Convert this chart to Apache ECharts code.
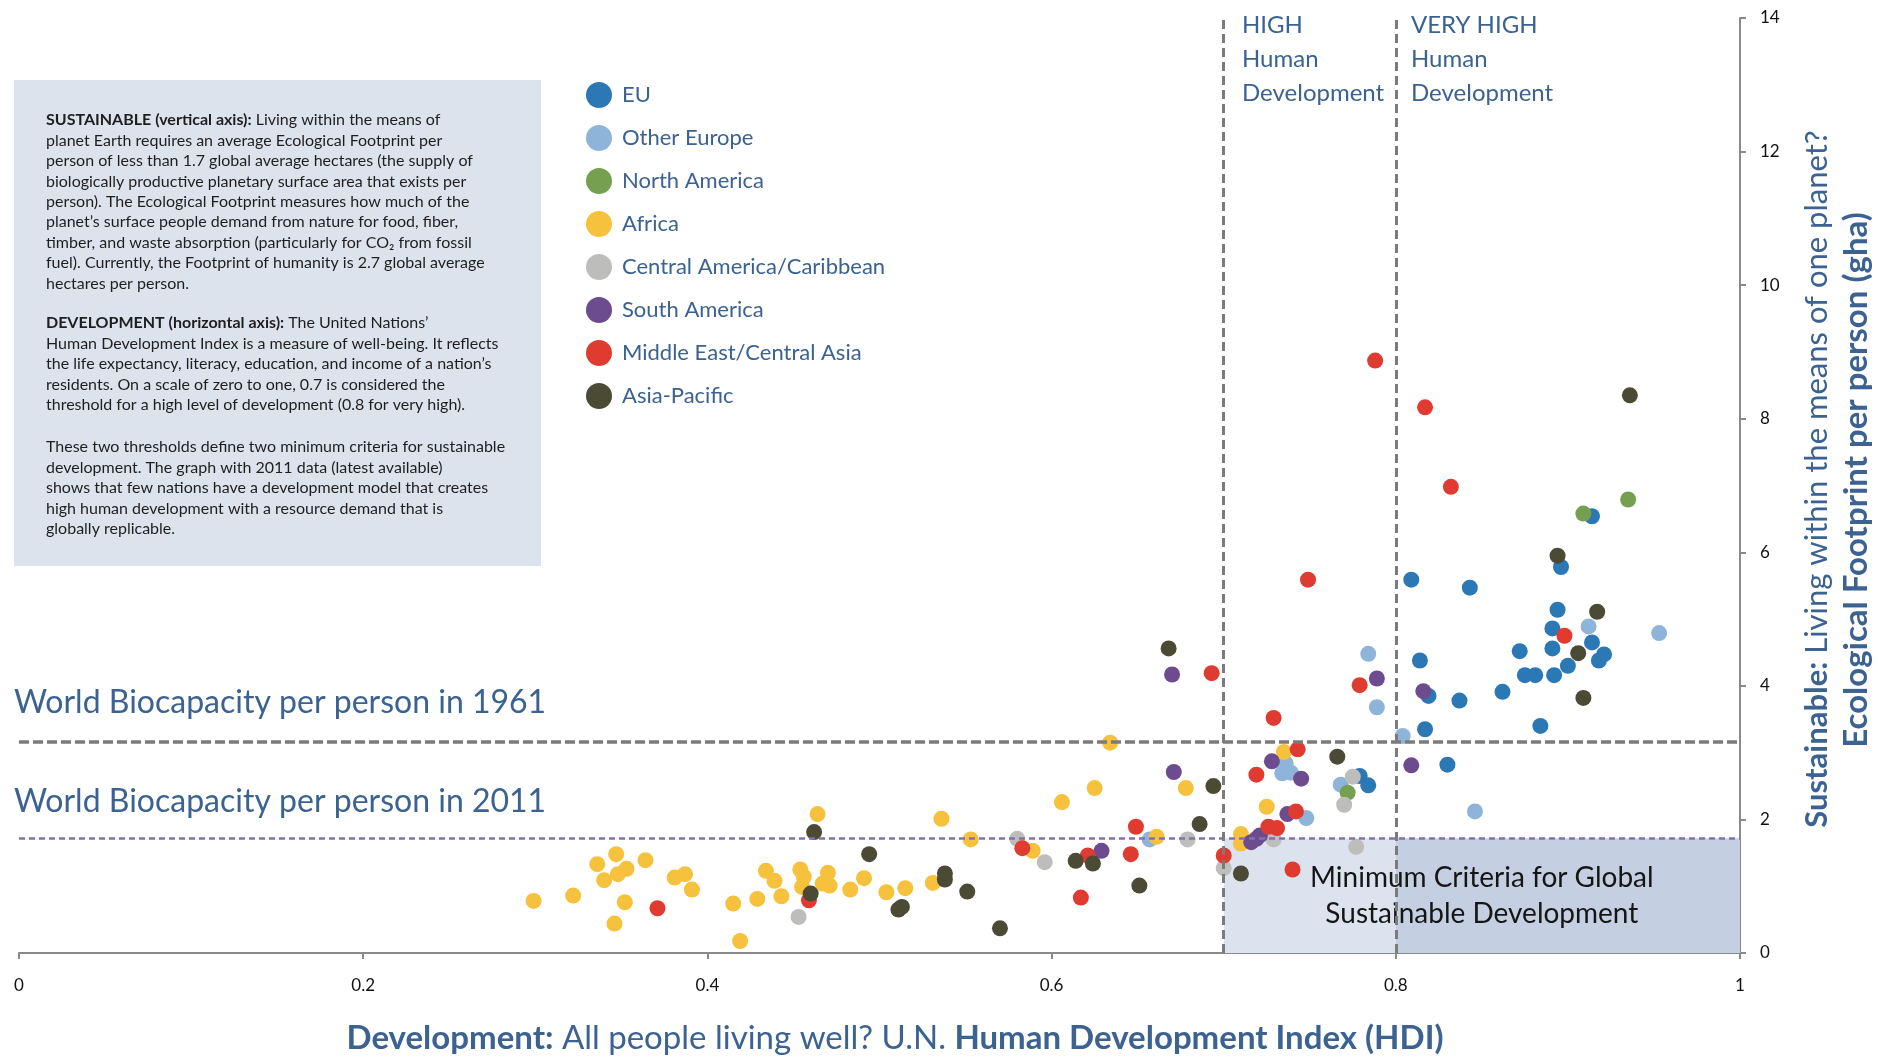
<!DOCTYPE html>
<html lang="en">
<head>
<meta charset="utf-8">
<title>Human Development vs Ecological Footprint</title>
<script src="https://cdn.jsdelivr.net/npm/echarts@6/dist/echarts.min.js"></script>
<style>
  html, body { margin: 0; padding: 0; background: #fff; }
  #main { width: 1878px; height: 1059px; }
</style>
</head>
<body>
<div id="main"></div>
<script>
// regions shown in the legend
var regions = ['EU', 'Other Europe', 'North America', 'Africa', 'Central America/Caribbean',
    'South America', 'Middle East/Central Asia', 'Asia-Pacific'];

// [HDI, ecological footprint per person (gha)]
var eu = [[0.809, 5.59], [0.843, 5.47], [0.896, 5.78], [0.914, 6.54], [0.894, 5.14], [0.891, 4.86],
    [0.914, 4.65], [0.891, 4.56], [0.872, 4.52], [0.921, 4.47], [0.918, 4.38], [0.814, 4.38],
    [0.900, 4.30], [0.875, 4.16], [0.881, 4.16], [0.892, 4.16], [0.862, 3.91], [0.837, 3.78],
    [0.819, 3.85], [0.817, 3.35], [0.884, 3.40], [0.830, 2.82], [0.779, 2.65], [0.784, 2.51]];
var otherEurope = [[0.953, 4.79], [0.912, 4.89], [0.784, 4.48], [0.789, 3.68], [0.804, 3.25],
    [0.846, 2.12], [0.736, 2.84], [0.734, 2.69], [0.739, 2.70], [0.768, 2.52], [0.748, 2.02], [0.657, 1.70]];
var northAmerica = [[0.935, 6.79], [0.909, 6.58], [0.772, 2.40]];
var africa = [[0.299, 0.78], [0.322, 0.86], [0.336, 1.33], [0.347, 1.48], [0.353, 1.26], [0.348, 1.18],
    [0.340, 1.09], [0.364, 1.39], [0.352, 0.76], [0.346, 0.44], [0.381, 1.13], [0.387, 1.18],
    [0.391, 0.95], [0.415, 0.74], [0.419, 0.18], [0.429, 0.81], [0.434, 1.23], [0.439, 1.08],
    [0.443, 0.85], [0.454, 1.25], [0.456, 1.14], [0.455, 0.99], [0.464, 2.08], [0.467, 1.04],
    [0.470, 1.20], [0.471, 1.01], [0.483, 0.95], [0.491, 1.12], [0.504, 0.91], [0.515, 0.97],
    [0.531, 1.05], [0.536, 2.01], [0.553, 1.70], [0.589, 1.53], [0.606, 2.26], [0.625, 2.47],
    [0.634, 3.15], [0.661, 1.74], [0.678, 2.47], [0.710, 1.78], [0.710, 1.64], [0.725, 2.19], [0.735, 3.01]];
var centralAmerica = [[0.453, 0.54], [0.580, 1.71], [0.596, 1.36], [0.679, 1.70], [0.700, 1.27],
    [0.729, 1.70], [0.777, 1.59], [0.770, 2.22], [0.775, 2.64]];
var southAmerica = [[0.629, 1.53], [0.670, 4.17], [0.671, 2.71], [0.728, 2.87], [0.745, 2.61],
    [0.737, 2.08], [0.721, 1.76], [0.716, 1.66], [0.719, 1.71], [0.789, 4.11], [0.816, 3.92], [0.809, 2.81]];
var middleEast = [[0.371, 0.67], [0.459, 0.79], [0.583, 1.57], [0.621, 1.46], [0.617, 0.83],
    [0.646, 1.48], [0.649, 1.89], [0.693, 4.19], [0.700, 1.46], [0.729, 3.52], [0.743, 3.05],
    [0.719, 2.67], [0.742, 2.12], [0.726, 1.89], [0.731, 1.87], [0.740, 1.25], [0.749, 5.59],
    [0.779, 4.01], [0.788, 8.87], [0.817, 8.17], [0.832, 6.98], [0.898, 4.75]];
var asiaPacific = [[0.460, 0.89], [0.462, 1.81], [0.494, 1.48], [0.511, 0.65], [0.513, 0.69],
    [0.538, 1.19], [0.538, 1.10], [0.551, 0.92], [0.570, 0.37], [0.614, 1.38], [0.624, 1.34],
    [0.651, 1.01], [0.668, 4.56], [0.686, 1.93], [0.694, 2.50], [0.710, 1.19], [0.766, 2.94],
    [0.894, 5.95], [0.917, 5.11], [0.906, 4.49], [0.909, 3.82], [0.936, 8.35]];

// thresholds
var biocapacity1961 = 3.17;
var biocapacity2011 = 1.72;
var hdiHigh = 0.7;
var hdiVeryHigh = 0.8;

var colors = ['#2b78b5', '#8fb4d9', '#76a04f', '#f6c13c', '#bdbdbb', '#6c4b8f', '#e03b30', '#4b4a35'];
var allData = [eu, otherEurope, northAmerica, africa, centralAmerica, southAmerica, middleEast, asiaPacific];

var FONT = 'Lato';
var BLUE = '#3b6291';

var myChart = echarts.init(document.getElementById('main'));

var series = [{
    // reference lines and shaded zone
    type: 'scatter',
    name: 'guides',
    data: [],
    silent: true,
    markLine: {
        silent: true,
        symbol: ['none', 'none'],
        label: {show: false},
        data: [
            {yAxis: biocapacity1961, lineStyle: {color: '#7b7b7b', width: 3.5, type: [10, 4]}},
            {yAxis: biocapacity2011, lineStyle: {color: '#8470b0', width: 2.5, type: [6, 4]}},
            {xAxis: hdiHigh, lineStyle: {color: '#7b7b7b', width: 3, type: [9, 5]}},
            {xAxis: hdiVeryHigh, lineStyle: {color: '#7b7b7b', width: 3, type: [9, 5]}}
        ]
    },
    markArea: {
        silent: true,
        label: {show: false},
        data: [
            [{xAxis: hdiHigh, yAxis: 0, itemStyle: {color: '#dde3ee'}}, {xAxis: hdiVeryHigh, yAxis: biocapacity2011}],
            [{xAxis: hdiVeryHigh, yAxis: 0, itemStyle: {color: '#c4d0e1'}}, {xAxis: 1, yAxis: biocapacity2011}],
            [{
                xAxis: hdiHigh, yAxis: 0,
                name: 'Minimum Criteria for Global\nSustainable Development',
                itemStyle: {color: 'rgba(0,0,0,0)'},
                label: {show: true, position: 'inside', fontFamily: FONT, fontSize: 28, lineHeight: 36, color: '#151515'}
            }, {xAxis: 1, yAxis: biocapacity2011}]
        ]
    }
}];

regions.forEach(function (r, i) {
    series.push({
        name: r,
        type: 'scatter',
        symbolSize: 16,
        itemStyle: {color: colors[i], opacity: 1},
        data: allData[i]
    });
});

function para(top, text) {
    return {
        type: 'text',
        left: 46,
        top: top,
        style: {
            text: text,
            rich: {
                b: {fontFamily: FONT, fontSize: 16, fontWeight: 'bold', fill: '#1e1e1e', lineHeight: 20.4},
                r: {fontFamily: FONT, fontSize: 16, fill: '#1e1e1e', lineHeight: 20.4}
            },
            fontFamily: FONT,
            fontSize: 16,
            lineHeight: 20.4,
            fill: '#1e1e1e'
        }
    };
}

var p1 = '{b|SUSTAINABLE (vertical axis):}{r| Living within the means of}\n' +
    '{r|planet Earth requires an average Ecological Footprint per}\n' +
    '{r|person of less than 1.7 global average hectares (the supply of}\n' +
    '{r|biologically productive planetary surface area that exists per}\n' +
    '{r|person). The Ecological Footprint measures how much of the}\n' +
    '{r|planet’s surface people demand from nature for food, fiber,}\n' +
    '{r|timber, and waste absorption (particularly for CO₂ from fossil}\n' +
    '{r|fuel). Currently, the Footprint of humanity is 2.7 global average}\n' +
    '{r|hectares per person.}';
var p2 = '{b|DEVELOPMENT (horizontal axis):}{r| The United Nations’}\n' +
    '{r|Human Development Index is a measure of well-being. It reflects}\n' +
    '{r|the life expectancy, literacy, education, and income of a nation’s}\n' +
    '{r|residents. On a scale of zero to one, 0.7 is considered the}\n' +
    '{r|threshold for a high level of development (0.8 for very high).}';
var p3 = '{r|These two thresholds define two minimum criteria for sustainable}\n' +
    '{r|development. The graph with 2011 data (latest available)}\n' +
    '{r|shows that few nations have a development model that creates}\n' +
    '{r|high human development with a resource demand that is}\n' +
    '{r|globally replicable.}';

var option = {
    backgroundColor: '#ffffff',
    animation: false,
    grid: {left: 19, right: 138, top: 18, bottom: 106, containLabel: false},
    legend: {
        orient: 'vertical',
        left: 581,
        top: 77,
        icon: 'circle',
        itemWidth: 26,
        itemHeight: 26,
        itemGap: 17,
        data: regions,
        textStyle: {fontFamily: FONT, fontSize: 22, color: BLUE, padding: [0, 0, 0, 5]}
    },
    xAxis: {
        type: 'value',
        min: 0,
        max: 1,
        interval: 0.2,
        splitLine: {show: false},
        axisLine: {show: true, onZero: false, lineStyle: {color: '#8a8a8a', width: 2}},
        axisTick: {show: true, inside: false, length: 6, lineStyle: {color: '#8a8a8a', width: 2}},
        axisLabel: {fontFamily: FONT, fontSize: 17, color: '#111', margin: 24}
    },
    yAxis: {
        type: 'value',
        position: 'right',
        min: 0,
        max: 14,
        interval: 2,
        splitLine: {show: false},
        axisLine: {show: true, onZero: false, lineStyle: {color: '#8a8a8a', width: 2}},
        axisTick: {show: true, inside: false, length: 6, lineStyle: {color: '#8a8a8a', width: 2}},
        axisLabel: {fontFamily: FONT, fontSize: 17, color: '#111', margin: 20}
    },
    graphic: [
        {type: 'rect', left: 14, top: 80, shape: {width: 527, height: 486}, style: {fill: '#dde3ed'}, z: -1},
        para(110, p1),
        para(313, p2),
        para(437, p3),
        {type: 'text', left: 14, top: 687, style: {text: 'World Biocapacity per person in 1961', fontFamily: FONT, fontSize: 32, fill: BLUE}},
        {type: 'text', left: 14, top: 786, style: {text: 'World Biocapacity per person in 2011', fontFamily: FONT, fontSize: 32, fill: BLUE}},
        {type: 'text', left: 1242, top: 8, style: {text: 'HIGH\nHuman\nDevelopment', fontFamily: FONT, fontSize: 24, lineHeight: 34, fill: BLUE}},
        {type: 'text', left: 1411, top: 8, style: {text: 'VERY HIGH\nHuman\nDevelopment', fontFamily: FONT, fontSize: 24, lineHeight: 34, fill: BLUE}},
        {
            type: 'text', x: 895, y: 1038,
            style: {
                text: '{b|Development:}{r| All people living well? U.N. }{b|Human Development Index (HDI)}',
                align: 'center', verticalAlign: 'middle',
                rich: {
                    b: {fontFamily: FONT, fontSize: 33, fontWeight: 'bold', fill: BLUE},
                    r: {fontFamily: FONT, fontSize: 33, fill: BLUE}
                }
            }
        },
        {
            type: 'text', x: 1817, y: 479, rotation: Math.PI / 2,
            style: {
                text: '{b|Sustainable:}{r| Living within the means of one planet?}',
                align: 'center', verticalAlign: 'middle',
                rich: {
                    b: {fontFamily: FONT, fontSize: 31, fontWeight: 'bold', fill: BLUE},
                    r: {fontFamily: FONT, fontSize: 31, fill: BLUE}
                }
            }
        },
        {
            type: 'text', x: 1856, y: 480, rotation: Math.PI / 2,
            style: {
                text: 'Ecological Footprint per person (gha)',
                align: 'center', verticalAlign: 'middle',
                fontFamily: FONT, fontSize: 33, fontWeight: 'bold', fill: BLUE
            }
        }
    ],
    series: series
};

myChart.setOption(option);
</script>
</body>
</html>
